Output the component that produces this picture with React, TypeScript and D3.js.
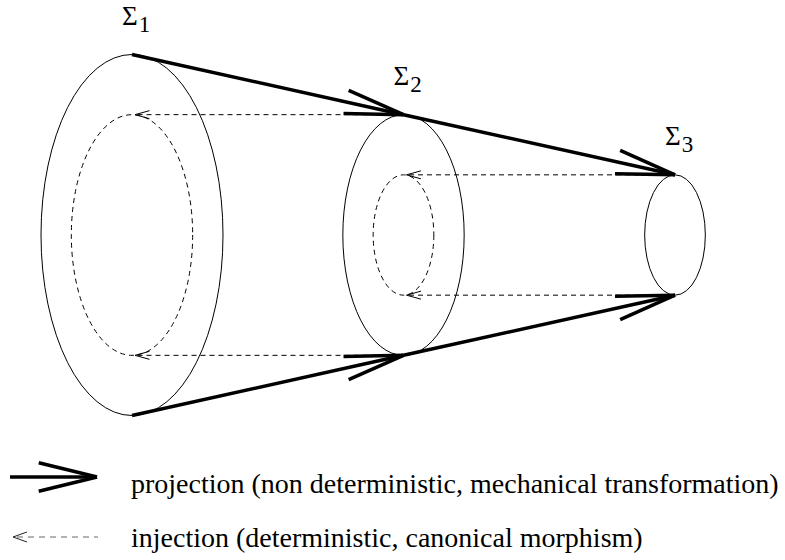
import * as d3 from 'd3';

// stages of the cascade and their relative sizes
const stageNames = ['Σ', 'Σ', 'Σ'];
const stageSubs = ['1', '2', '3'];
const stageSizes = [3, 2, 1];
const legendLabels = [
  'projection (non deterministic, mechanical transformation)',
  'injection (deterministic, canonical morphism)',
];

const W = 785;
const H = 560;
const CY = 235;

const x = d3.scaleLinear([0, stageSizes.length - 1], [132, 675]);
const ry = d3.scaleLinear([0, 3], [0, 180.5]);
const rx = d3.scaleLinear([0, 3], [0, 91]);

function wings(tx: number, ty: number, fx: number, fy: number, len: number, spread: number) {
  const back = Math.atan2(fy - ty, fx - tx);
  return [back - spread, back + spread].map((a) => [tx + len * Math.cos(a), ty + len * Math.sin(a)]);
}

function Projection({ x1, y1, x2, y2, spread = 0.2 }: { x1: number; y1: number; x2: number; y2: number; spread?: number }) {
  const w = wings(x2, y2, x1, y1, 60, spread);
  return (
    <g stroke="#000" strokeWidth={3.5} strokeLinecap="butt" fill="none">
      <line x1={x1} y1={y1} x2={x2} y2={y2} />
      {w.map(([wx, wy], i) => (
        <line key={i} x1={x2} y1={y2} x2={wx} y2={wy} />
      ))}
    </g>
  );
}

function Injection({ x1, y1, x2, y2 }: { x1: number; y1: number; x2: number; y2: number }) {
  const w = wings(x2, y2, x1, y1, 15, 0.27);
  return (
    <g stroke="#000" strokeWidth={1} fill="none">
      <line x1={x1} y1={y1} x2={x2} y2={y2} strokeDasharray="5 4" />
      {w.map(([wx, wy], i) => (
        <line key={i} x1={x2} y1={y2} x2={wx} y2={wy} />
      ))}
    </g>
  );
}

export default function App() {
  const font = 'Liberation Serif, Times New Roman, serif';
  const links = d3.pairs(stageSizes.map((s, i) => ({ s, i })));
  return (
    <svg width={W} height={H} style={{ position: 'absolute', left: 0, top: 0, background: '#fff' }}>
      {/* dashed inner ellipses: the image of the next stage */}
      {links.map(([a, b]) => (
        <ellipse
          key={'in' + a.i}
          cx={x(a.i)}
          cy={CY}
          rx={rx(b.s)}
          ry={ry(b.s)}
          fill="none"
          stroke="#000"
          strokeWidth={1}
          strokeDasharray="5 4"
        />
      ))}
      {/* injections */}
      {links.map(([a, b]) =>
        [-1, 1].map((sgn) => (
          <Injection
            key={'inj' + a.i + sgn}
            x1={x(b.i)}
            y1={CY + sgn * ry(b.s)}
            x2={x(a.i) + 3}
            y2={CY + sgn * ry(b.s)}
          />
        ))
      )}
      {/* outer ellipses */}
      {stageSizes.map((s, i) => (
        <ellipse key={'e' + i} cx={x(i)} cy={CY} rx={rx(s)} ry={ry(s)} fill="none" stroke="#000" strokeWidth={1} />
      ))}
      {/* projections */}
      {links.map(([a, b]) =>
        [-1, 1].map((sgn) => (
          <Projection
            key={'p' + a.i + sgn}
            x1={x(a.i)}
            y1={CY + sgn * ry(a.s)}
            x2={x(b.i)}
            y2={CY + sgn * ry(b.s)}
          />
        ))
      )}
      {/* labels */}
      {stageSizes.map((s, i) => (
        <text key={'l' + i} x={x(i) - 10} y={CY - ry(s) - 30} fontFamily={font} fill="#000">
          <tspan fontSize={27}>{stageNames[i]}</tspan>
          <tspan fontSize={23} dx={1} dy={7}>
            {stageSubs[i]}
          </tspan>
        </text>
      ))}
      {/* legend */}
      <Projection x1={10} y1={477} x2={97} y2={477} spread={0.24} />
      <g stroke="#666" strokeWidth={1} fill="none">
        <line x1={17} y1={537} x2={98} y2={537} strokeDasharray="6 5" />
        <polyline points="27,532 13,537 27,542" stroke="#222" />
      </g>
      {legendLabels.map((t, i) => (
        <text key={'t' + i} x={131} y={i === 0 ? 493 : 547} fontFamily={font} fontSize={28} fill="#000">
          {t}
        </text>
      ))}
    </svg>
  );
}
